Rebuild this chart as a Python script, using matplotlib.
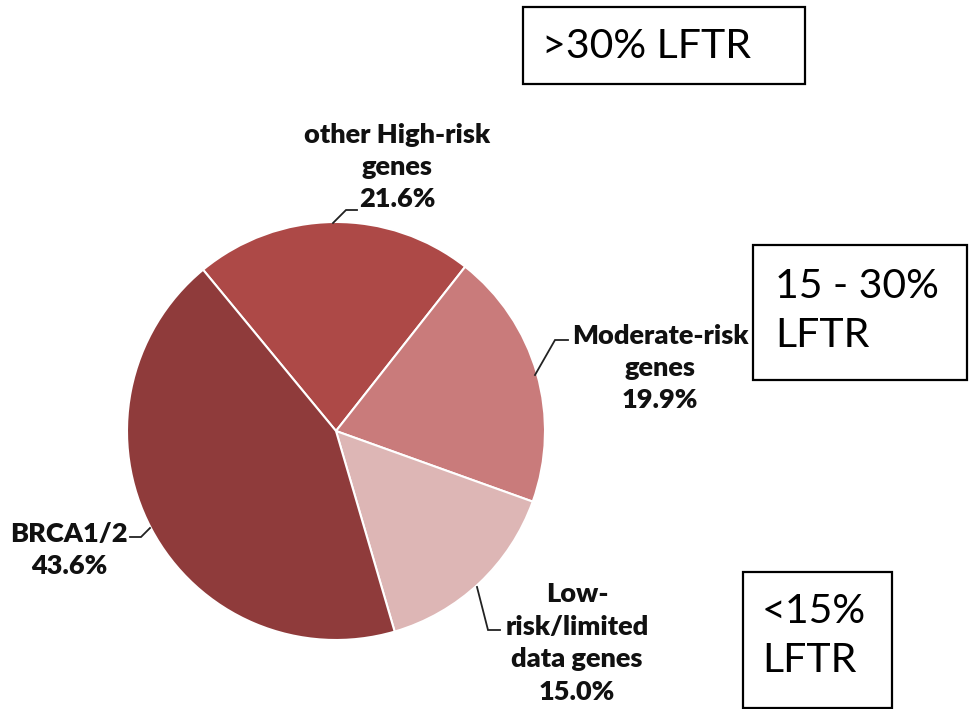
import matplotlib
matplotlib.use("Agg")
import matplotlib.pyplot as plt
from matplotlib.patches import Rectangle

# Share of carriers by gene risk category
categories = ["other High-risk\ngenes", "Moderate-risk\ngenes",
              "Low-\nrisk/limited\ndata genes", "BRCA1/2"]
shares = [21.6, 19.9, 15.0, 43.6]
colors = ["#ad4947", "#c97b7b", "#ddb6b5", "#8f3b3b"]

# Risk tier boxes (lifetime risk)
tier_labels = [">30% LFTR", "15 - 30%\nLFTR", "<15%\nLFTR"]

W, H = 969, 709
fig = plt.figure(figsize=(W / 100, H / 100), dpi=100)
ax = fig.add_axes([0, 0, 1, 1])


def Y(y):
    return H - y


ax.pie(shares, colors=colors, startangle=129.5, counterclock=False,
       center=(336, Y(431)), radius=209,
       wedgeprops=dict(edgecolor="white", linewidth=1.5))
ax.set_xlim(0, W)
ax.set_ylim(0, H)
ax.set_aspect("equal")
ax.axis("off")

lab_font = dict(family=["Lato", "DejaVu Sans"], fontweight="heavy",
                fontsize=19.5, color="#111111", ha="center", va="center",
                linespacing=1.42)

# category labels with their percentages
label_pos = [(397, 167), (660, 368), (577, 643), (69, 550)]
for cat, val, (x, y) in zip(categories, shares, label_pos):
    ax.text(x, Y(y), f"{cat}\n{val:.1f}%", **lab_font)

# leader lines
leaders = [
    [(333, 223), (346, 210), (357, 210)],
    [(535, 375), (555, 340), (568, 340)],
    [(477, 587), (488, 630), (500, 630)],
    [(130, 537), (141, 537), (150, 528)],
]
for pts in leaders:
    xs = [p[0] for p in pts]
    ys = [Y(p[1]) for p in pts]
    ax.plot(xs, ys, color="#222222", lw=1.3, solid_joinstyle="miter")

# tier boxes
boxes = [(523, 7, 805, 84), (753, 245, 967, 380), (743, 572, 892, 708)]
text_anchor = [(542, 47), (775, 311), (762, 636)]
box_font = dict(family=["Lato", "DejaVu Sans"], fontsize=29.5, color="black",
                ha="left", va="center", linespacing=1.4)
for (x0, y0, x1, y1), (tx, ty), txt in zip(boxes, text_anchor, tier_labels):
    ax.add_patch(Rectangle((x0, Y(y1)), x1 - x0, y1 - y0, fill=False,
                           edgecolor="black", lw=1.6))
    ax.text(tx, Y(ty), txt, **box_font)

fig.savefig("out.png", dpi=100)
